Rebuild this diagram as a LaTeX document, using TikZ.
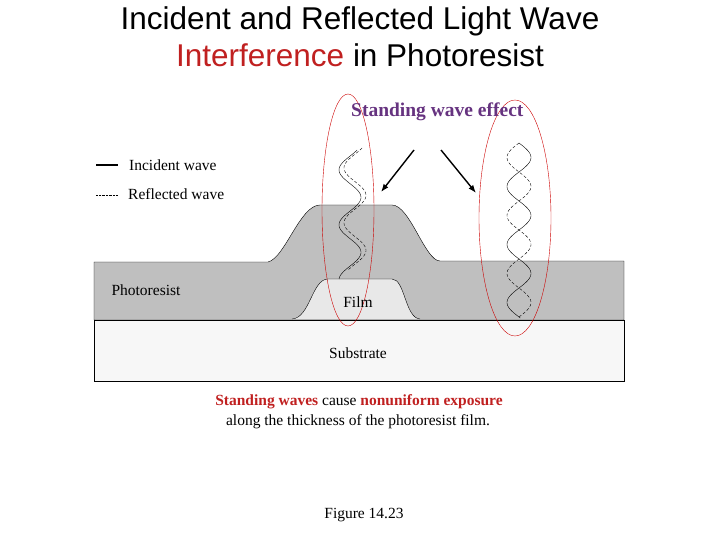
\documentclass[tikz,border=0pt]{standalone}
\usepackage{fontspec}
\setmainfont{Liberation Serif}
\newfontfamily\arialf{Liberation Sans}
\usetikzlibrary{arrows.meta}
\definecolor{resist}{gray}{0.75}
\definecolor{filmc}{gray}{0.91}
\definecolor{subc}{gray}{0.97}
\definecolor{purp}{RGB}{102,51,128}
\definecolor{redt}{RGB}{192,32,32}
\tikzset{lbl/.style={inner sep=0pt,font=\fontsize{15.5}{17}\selectfont},
 ell/.style={draw=red!80!black,thin},
 arr/.style={line width=1.4pt,-{Latex[length=8pt,width=6pt]}}}
\begin{document}
\begin{tikzpicture}[x=1pt,y=-1pt]
\useasboundingbox (0,0) rectangle (720,540);
\node (t1) at (360,21) {\arialf\fontsize{31.5}{33}\selectfont Incident and Reflected Light Wave};
\node (t2) at (360,55) {\arialf\fontsize{31.5}{33}\selectfont\textcolor{redt}{Interference} in Photoresist};
% substrate
\draw[fill=subc,line width=1pt] (94,320) rectangle (624,381);
% photoresist
\draw[fill=resist] (94,320) -- (94,262) -- (268,262) .. controls (285,258) and (300,205) .. (320,205) -- (392,205) .. controls (410,205) and (425,261) .. (440,261) -- (624,261) -- (624,320) -- cycle;
% film
\draw[fill=filmc] (292,319) .. controls (310,318) and (312,279) .. (328,279) -- (392,279) .. controls (405,279) and (405,318) .. (420,319);
\draw[line width=1pt] (94,320) -- (624,320);
% left waves
\draw[thin] plot[domain=150:279,samples=90,smooth] ({350+11*sin((\x-150)/55*360+140)},\x);
\draw[thin,densely dashed] plot[domain=148:270,samples=90,smooth] ({355+11*sin((\x-148)/55*360+140)},\x);
% right standing wave
\draw[thin] plot[domain=143:318,samples=120,smooth] ({519+12*sin((\x-143)/58*360)},\x);
\draw[thin,densely dashed] plot[domain=143:318,samples=120,smooth] ({519-12*sin((\x-143)/58*360)},\x);
% arrows
\coordinate (a1s) at (414,150); \coordinate (a1e) at (381,192);
\coordinate (a2s) at (441,150); \coordinate (a2e) at (476,193);
\draw[arr] (a1s) -- (a1e);
\draw[arr] (a2s) -- (a2e);
% ellipses
\draw[ell] (348,210) ellipse [x radius=26,y radius=116];
\draw[ell] (515,218) ellipse [x radius=36,y radius=118];
% legend
\coordinate (l1a) at (96,165); \coordinate (l1b) at (118,165);
\coordinate (l2a) at (96,195); \coordinate (l2b) at (118,195);
\draw[line width=1.2pt] (l1a) -- (l1b);
\draw[densely dotted] (l2a) -- (l2b);
\node[lbl,anchor=west] (li) at (129,165) {Incident wave};
\node[lbl,anchor=west] (lr) at (128,194) {Reflected wave};
\node[lbl,anchor=west,font=\fontsize{19.5}{21}\selectfont\bfseries,text=purp] (sw) at (351,112) {Standing wave effect};
\node[lbl] (pr) at (146,290) {Photoresist};
\node[lbl] (fi) at (358,302) {Film};
\node[lbl] (su) at (358,353) {Substrate};
\node[lbl] (c1) at (359,402) {\textcolor{redt}{\bfseries Standing waves} cause \textcolor{redt}{\bfseries nonuniform exposure}};
\node[lbl] (c2) at (358,422) {along the thickness of the photoresist film.};
\node[lbl] (fg) at (364,515) {Figure 14.23};
\end{tikzpicture}
\end{document}
